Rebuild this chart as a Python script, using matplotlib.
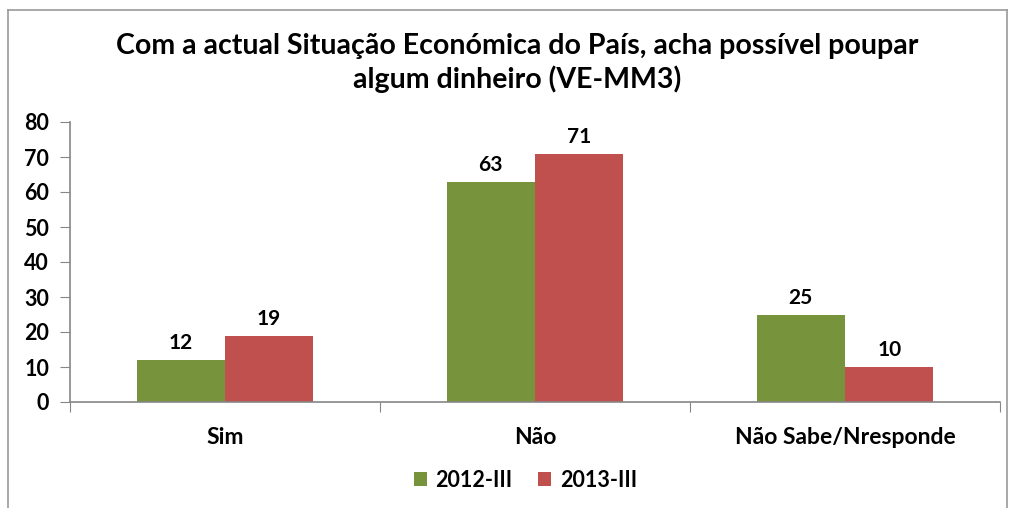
import matplotlib
matplotlib.use("Agg")
import matplotlib.pyplot as plt
import numpy as np
from matplotlib.lines import Line2D

categories = ["Sim", "Não", "Não Sabe/Nresponde"]
series_names = ["2012-III", "2013-III"]
values_2012 = [12, 63, 25]
values_2013 = [19, 71, 10]
yticks = [0, 10, 20, 30, 40, 50, 60, 70, 80]
title = "Com a actual Situação Económica do País, acha possível poupar\nalgum dinheiro (VE-MM3)"

colors = ["#77933C", "#C0504D"]
plt.rcParams['font.family'] = ['Lato', 'DejaVu Sans']

fig = plt.figure(figsize=(10.14, 5.08), dpi=100)
ax = fig.add_axes([70/1014, 1-402/508, 930/1014, 280/508])

x = np.arange(len(categories))
w = 0.285
b1 = ax.bar(x - w/2, values_2012, w, color=colors[0], label=series_names[0])
b2 = ax.bar(x + w/2, values_2013, w, color=colors[1], label=series_names[1])
for bars in (b1, b2):
    for r in bars:
        ax.annotate(f"{int(r.get_height())}", (r.get_x() + r.get_width()/2, r.get_height()),
                    xytext=(0, 5), textcoords="offset points", ha="center", va="bottom",
                    fontsize=15, fontweight="bold", color="black")

ax.set_xlim(-0.5, len(categories) - 0.5)
ax.set_ylim(0, 80)
ax.set_yticks(yticks)
ax.set_yticklabels([str(t) for t in yticks], fontsize=15.5, fontweight="bold")
ax.set_xticks(np.arange(-0.5, len(categories)), minor=False)
ax.set_xticklabels([""] * (len(categories) + 1))
ax.set_xticks(x, minor=True)
ax.set_xticklabels(categories, minor=True, fontsize=16.5, fontweight="bold")
ax.tick_params(axis="x", which="minor", length=0, pad=18)
ax.tick_params(axis="x", which="major", length=7, color="#868686", direction="out")
ax.tick_params(axis="y", length=7, color="#868686", direction="out", pad=8)
for s in ["top", "right"]:
    ax.spines[s].set_visible(False)
for s in ["left", "bottom"]:
    ax.spines[s].set_color("#868686")
    ax.spines[s].set_linewidth(1.2)

fig.text(0.51, 0.876, title, ha="center", va="center", fontsize=20.5, fontweight="bold",
         linespacing=1.25)

leg = fig.legend(handles=[b1, b2], labels=series_names, loc="center", bbox_to_anchor=(0.518, 0.055),
                 ncol=2, frameon=False, prop={"weight": "bold", "size": 15.5},
                 handlelength=0.6, handleheight=0.6, handletextpad=0.4, columnspacing=1.2)

# outer frame
fc = "#9a9a9a"
fig.add_artist(Line2D([8/1014, 8/1014], [0, 1-10/508], color=fc, lw=1.2, transform=fig.transFigure))
fig.add_artist(Line2D([8/1014, 1007/1014], [1-10/508, 1-10/508], color=fc, lw=1.2, transform=fig.transFigure))
fig.add_artist(Line2D([1007/1014, 1007/1014], [0, 1-10/508], color=fc, lw=1.2, transform=fig.transFigure))

fig.savefig("out.png", dpi=100)
